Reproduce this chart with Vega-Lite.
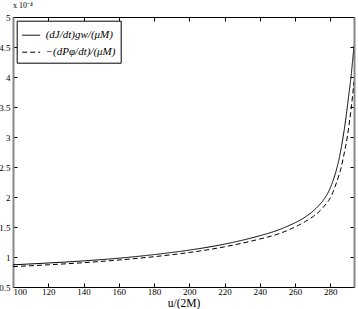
{
  "$schema": "https://vega.github.io/schema/vega-lite/v6.json",
  "width": 341,
  "height": 270,
  "autosize": {"type": "none"},
  "padding": {"left": 13, "top": 17, "right": 3.5, "bottom": 22},
  "background": "white",
  "title": {"text": "x 10⁻⁴", "anchor": "start", "frame": "group", "fontSize": 8, "font": "Liberation Serif", "fontWeight": "normal", "offset": 3, "color": "black"},
  "config": {
    "view": {"stroke": "black", "strokeWidth": 1},
    "axis": {"labelFont": "Liberation Serif", "labelFontSize": 9, "titleFont": "Liberation Serif", "titleFontWeight": "normal", "grid": false, "tickColor": "black", "domainColor": "black", "labelColor": "black", "titleColor": "black", "tickSize": -4},
    "legend": {
      "orient": "none", "legendX": 3.7, "legendY": 3.7,
      "strokeColor": "black", "fillColor": "white", "padding": 5,
      "symbolType": "stroke", "symbolStrokeColor": "black", "symbolSize": 324, "symbolStrokeWidth": 1,
      "labelFont": "Liberation Serif", "labelFontStyle": "italic", "labelFontSize": 11, "labelColor": "black",
      "rowPadding": 2, "labelOffset": 5
    }
  },
  "data": {"values": [
    {"u": 100, "v": 0.87, "s": "(dJ/dt)gw/(μM)"},
    {"u": 120, "v": 0.90, "s": "(dJ/dt)gw/(μM)"},
    {"u": 140, "v": 0.935, "s": "(dJ/dt)gw/(μM)"},
    {"u": 160, "v": 0.98, "s": "(dJ/dt)gw/(μM)"},
    {"u": 180, "v": 1.04, "s": "(dJ/dt)gw/(μM)"},
    {"u": 200, "v": 1.115, "s": "(dJ/dt)gw/(μM)"},
    {"u": 220, "v": 1.215, "s": "(dJ/dt)gw/(μM)"},
    {"u": 240, "v": 1.355, "s": "(dJ/dt)gw/(μM)"},
    {"u": 250, "v": 1.445, "s": "(dJ/dt)gw/(μM)"},
    {"u": 257, "v": 1.53, "s": "(dJ/dt)gw/(μM)"},
    {"u": 262, "v": 1.60, "s": "(dJ/dt)gw/(μM)"},
    {"u": 266.4, "v": 1.68, "s": "(dJ/dt)gw/(μM)"},
    {"u": 270, "v": 1.76, "s": "(dJ/dt)gw/(μM)"},
    {"u": 273, "v": 1.845, "s": "(dJ/dt)gw/(μM)"},
    {"u": 276.8, "v": 1.98, "s": "(dJ/dt)gw/(μM)"},
    {"u": 279, "v": 2.09, "s": "(dJ/dt)gw/(μM)"},
    {"u": 281, "v": 2.23, "s": "(dJ/dt)gw/(μM)"},
    {"u": 283.4, "v": 2.45, "s": "(dJ/dt)gw/(μM)"},
    {"u": 285.4, "v": 2.70, "s": "(dJ/dt)gw/(μM)"},
    {"u": 287.2, "v": 3.00, "s": "(dJ/dt)gw/(μM)"},
    {"u": 288.5, "v": 3.25, "s": "(dJ/dt)gw/(μM)"},
    {"u": 289.6, "v": 3.50, "s": "(dJ/dt)gw/(μM)"},
    {"u": 290.7, "v": 3.76, "s": "(dJ/dt)gw/(μM)"},
    {"u": 291.7, "v": 4.00, "s": "(dJ/dt)gw/(μM)"},
    {"u": 292.5, "v": 4.24, "s": "(dJ/dt)gw/(μM)"},
    {"u": 293.4, "v": 4.52, "s": "(dJ/dt)gw/(μM)"},
    {"u": 100, "v": 0.84, "s": "−(dPφ/dt)/(μM)"},
    {"u": 120, "v": 0.87, "s": "−(dPφ/dt)/(μM)"},
    {"u": 140, "v": 0.905, "s": "−(dPφ/dt)/(μM)"},
    {"u": 160, "v": 0.95, "s": "−(dPφ/dt)/(μM)"},
    {"u": 180, "v": 1.005, "s": "−(dPφ/dt)/(μM)"},
    {"u": 200, "v": 1.075, "s": "−(dPφ/dt)/(μM)"},
    {"u": 220, "v": 1.17, "s": "−(dPφ/dt)/(μM)"},
    {"u": 240, "v": 1.30, "s": "−(dPφ/dt)/(μM)"},
    {"u": 250, "v": 1.38, "s": "−(dPφ/dt)/(μM)"},
    {"u": 257, "v": 1.46, "s": "−(dPφ/dt)/(μM)"},
    {"u": 262, "v": 1.53, "s": "−(dPφ/dt)/(μM)"},
    {"u": 266, "v": 1.595, "s": "−(dPφ/dt)/(μM)"},
    {"u": 270, "v": 1.67, "s": "−(dPφ/dt)/(μM)"},
    {"u": 273, "v": 1.74, "s": "−(dPφ/dt)/(μM)"},
    {"u": 276, "v": 1.83, "s": "−(dPφ/dt)/(μM)"},
    {"u": 279, "v": 1.94, "s": "−(dPφ/dt)/(μM)"},
    {"u": 280.6, "v": 2.02, "s": "−(dPφ/dt)/(μM)"},
    {"u": 283, "v": 2.20, "s": "−(dPφ/dt)/(μM)"},
    {"u": 284.5, "v": 2.33, "s": "−(dPφ/dt)/(μM)"},
    {"u": 286.2, "v": 2.50, "s": "−(dPφ/dt)/(μM)"},
    {"u": 288, "v": 2.75, "s": "−(dPφ/dt)/(μM)"},
    {"u": 289.6, "v": 3.00, "s": "−(dPφ/dt)/(μM)"},
    {"u": 290.8, "v": 3.25, "s": "−(dPφ/dt)/(μM)"},
    {"u": 291.9, "v": 3.50, "s": "−(dPφ/dt)/(μM)"},
    {"u": 292.7, "v": 3.72, "s": "−(dPφ/dt)/(μM)"},
    {"u": 293.4, "v": 3.92, "s": "−(dPφ/dt)/(μM)"}
  ]},
  "layer": [
    {
      "mark": {"type": "line", "color": "black", "strokeWidth": 1, "interpolate": "monotone", "clip": true},
      "encoding": {
        "x": {"field": "u", "type": "quantitative", "scale": {"domain": [100, 293.4], "nice": false, "zero": false},
              "axis": {"values": [100,120,140,160,180,200,220,240,260,280], "title": "u/(2M)", "titleFontSize": 11.5, "titlePadding": 1, "labelPadding": 4, "domain": false}},
        "y": {"field": "v", "type": "quantitative", "scale": {"domain": [0.5, 5], "nice": false, "zero": false},
              "axis": {"values": [0.5,1,1.5,2,2.5,3,3.5,4,4.5,5], "format": "~g", "title": null, "labelPadding": 7, "domainColor": "#888888", "domainWidth": 2}},
        "strokeDash": {"field": "s", "type": "nominal",
              "scale": {"domain": ["(dJ/dt)gw/(μM)", "−(dPφ/dt)/(μM)"], "range": [[1, 0], [5, 3]]},
              "legend": {"title": null}}
      }
    },
    {
      "mark": {"type": "line", "opacity": 0},
      "encoding": {
        "x": {"field": "u", "type": "quantitative", "axis": {"orient": "top", "values": [100,120,140,160,180,200,220,240,260,280], "labels": false, "title": null, "domain": false}},
        "y": {"field": "v", "type": "quantitative", "axis": {"orient": "right", "values": [0.5,1,1.5,2,2.5,3,3.5,4,4.5,5], "labels": false, "title": null, "domainColor": "#888888", "domainWidth": 2}},
        "detail": {"field": "s"}
      }
    }
  ],
  "resolve": {"axis": {"x": "independent", "y": "independent"}}
}
